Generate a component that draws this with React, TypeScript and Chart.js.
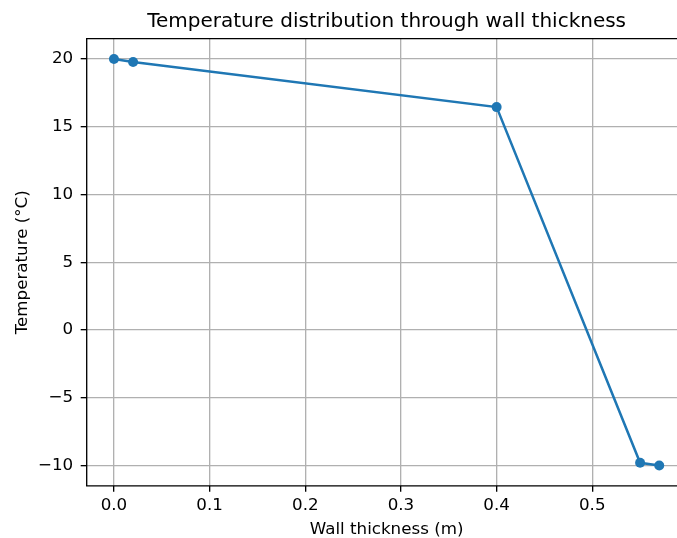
import React, { useEffect, useRef } from "react";
import { Chart, registerables } from "chart.js";

Chart.register(...registerables);

const thickness = [0, 0.02, 0.4, 0.55, 0.57];
const temperature = [20, 19.78, 16.45, -9.8, -10];
const xTicks = [0, 0.1, 0.2, 0.3, 0.4, 0.5];
const yTicks = [-10, -5, 0, 5, 10, 15, 20];

const titleText = "Temperature distribution through wall thickness";
const xLabel = "Wall thickness (m)";
const yLabel = "Temperature (°C)";

const FONT = "'DejaVu Sans', sans-serif";

export default function App() {
  const ref = useRef<HTMLCanvasElement | null>(null);

  useEffect(() => {
    const canvas = ref.current!;
    const decor = {
      id: "decor",
      afterDraw(chart: any) {
        const { ctx, chartArea } = chart;
        const { left, right, top, bottom } = chartArea;
        ctx.save();
        ctx.strokeStyle = "#000";
        ctx.lineWidth = 1.33;
        ctx.beginPath();
        ctx.moveTo(right, top);
        ctx.lineTo(left, top);
        ctx.lineTo(left, bottom);
        ctx.lineTo(right, bottom);
        ctx.stroke();
        ctx.fillStyle = "#000";
        ctx.textAlign = "center";
        ctx.textBaseline = "alphabetic";
        const cx = (left + right) / 2;
        ctx.font = `20px ${FONT}`;
        ctx.fillText(titleText, cx, 27.3);
        ctx.font = `16.7px ${FONT}`;
        ctx.fillText(xLabel, cx, 533.5);
        ctx.translate(26.5, (top + bottom) / 2);
        ctx.rotate(-Math.PI / 2);
        ctx.fillText(yLabel, 0, 0);
        ctx.restore();
      },
    };
    const chart = new Chart(canvas, {
      type: "line",
      data: {
        datasets: [
          {
            data: thickness.map((x, i) => ({ x, y: temperature[i] })),
            borderColor: "#1f77b4",
            backgroundColor: "#1f77b4",
            borderWidth: 2.5,
            pointRadius: 5,
            pointBorderWidth: 0,
            pointBackgroundColor: "#1f77b4",
            tension: 0,
          },
        ],
      },
      options: {
        animation: false,
        responsive: false,
        devicePixelRatio: 1,
        layout: { padding: { left: 0, top: 38.7, right: 13.5, bottom: 0 } },
        plugins: {
          legend: { display: false },
          title: { display: false },
          tooltip: { enabled: false },
        },
        scales: {
          x: {
            type: "linear",
            min: -0.0285,
            max: 0.5985,
            afterFit(scale: any) {
              scale.height = 52.2;
            },
            afterBuildTicks(scale: any) {
              scale.ticks = xTicks.map((v) => ({ value: v }));
            },
            ticks: {
              padding: 3.5,
              color: "#000",
              font: { family: FONT, size: 16.7 },
              maxRotation: 0,
              callback: (v: any) => Number(v).toFixed(1),
            },
            grid: {
              color: "#b0b0b0",
              lineWidth: 1.33,
              tickColor: "#000",
              tickLength: 6,
              tickWidth: 1.33,
            },
            border: { display: false },
          },
          y: {
            type: "linear",
            min: -11.5,
            max: 21.5,
            afterFit(scale: any) {
              scale.width = 86.7;
            },
            afterBuildTicks(scale: any) {
              scale.ticks = yTicks.map((v) => ({ value: v }));
            },
            ticks: {
              padding: 7.5,
              color: "#000",
              font: { family: FONT, size: 16.7 },
              callback: (v: any) => (Number(v) < 0 ? "\u2212" + Math.abs(Number(v)) : String(v)),
            },
            grid: {
              color: "#b0b0b0",
              lineWidth: 1.33,
              tickColor: "#000",
              tickLength: 6,
              tickWidth: 1.33,
            },
            border: { display: false },
          },
        },
      },
      plugins: [decor],
    } as any);
    return () => chart.destroy();
  }, []);

  return (
    <div
      style={{
        position: "fixed",
        left: 0,
        top: 0,
        width: 677,
        height: 538,
        overflow: "hidden",
        background: "#fff",
      }}
    >
      <canvas ref={ref} width={700} height={538} style={{ width: 700, height: 538, display: "block" }} />
    </div>
  );
}
